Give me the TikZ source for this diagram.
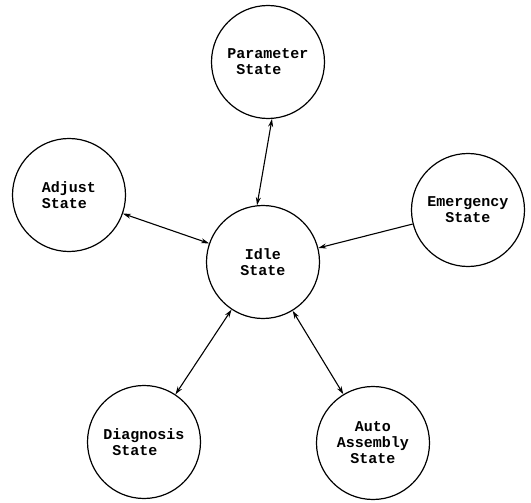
\documentclass[tikz,border=0pt]{standalone}
\usepackage{fontspec}
\setmonofont{Liberation Mono}
\usetikzlibrary{arrows.meta}
\tikzset{
  state/.style={draw, circle, minimum size=113pt, inner sep=0pt, line width=1.2pt,
    font=\ttfamily\bfseries\fontsize{15}{16}\selectfont, align=center},
  link/.style={line width=1.1pt, {Stealth[length=8pt,width=5pt]}-{Stealth[length=8pt,width=5pt]}},
  oneway/.style={line width=1.1pt, -{Stealth[length=8pt,width=5pt]}},
}
\begin{document}
\begin{tikzpicture}[x=1pt, y=-1pt]
    \useasboundingbox (0,0) rectangle (531,503);

    % Idle state in the middle
    \node[state] (idle) at (263,262) {Idle\\State};

    % States around it
    \node[state, align=left] (param) at (268,62) {Parameter\\\hphantom{P}State};
    \node[state, align=left] (adjust) at (69,195) {Adjust\\State};
    \node[state] (emerg) at (468,210) {Emergency\\State};
    \node[state, align=left] (diag) at (144,442) {Diagnosis\\\hphantom{D}State};
    \node[state] (auto) at (373,443) {Auto\\Assembly\\State};

    % Transitions
    \draw[link] (param.-86) -- (idle.96);
    \draw[link] (adjust) -- (idle);
    \draw[oneway] (emerg) -- (idle);
    \draw[link] (diag) -- (idle);
    \draw[link] (auto) -- (idle);

\end{tikzpicture}
\end{document}
